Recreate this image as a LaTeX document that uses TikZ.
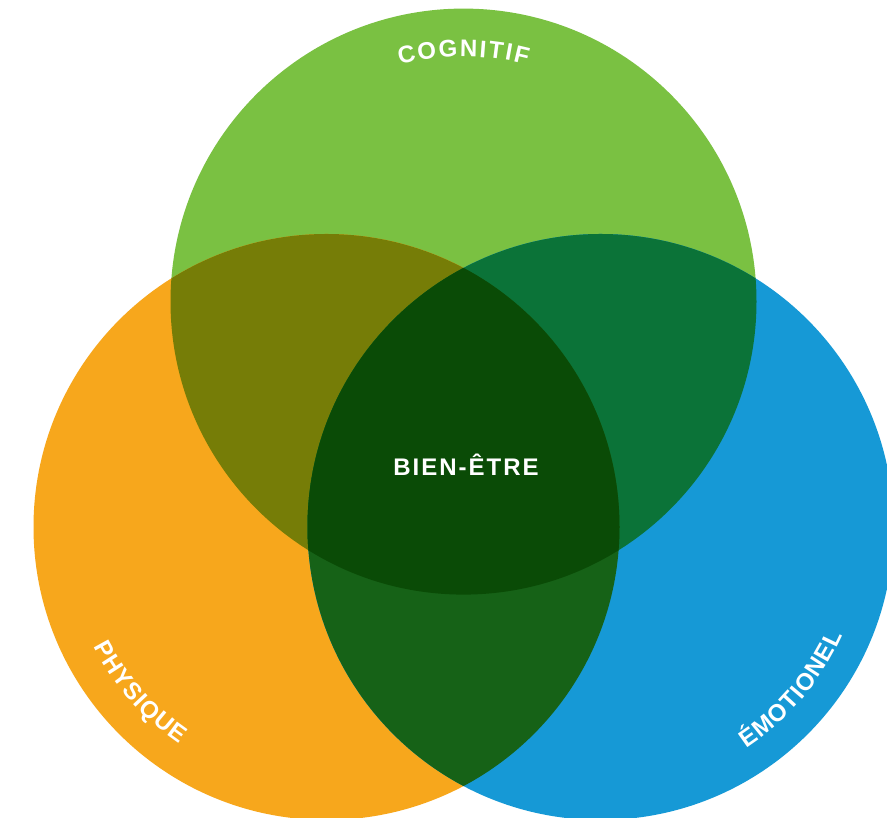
\documentclass[tikz,border=0pt]{standalone}
\usepackage{fontspec}
\setmainfont{Liberation Sans}
\usetikzlibrary{calc}

% circle colours and the multiplied tones of their overlaps
\definecolor{cogGreen}{RGB}{122,193,66}
\definecolor{phyOrange}{RGB}{247,167,28}
\definecolor{emoBlue}{RGB}{22,153,214}
\definecolor{cogPhy}{RGB}{118,125,7}
\definecolor{cogEmo}{RGB}{11,115,56}
\definecolor{phyEmo}{RGB}{22,98,23}
\definecolor{allThree}{RGB}{10,75,6}

\tikzset{
  lettr/.style={inner sep=0pt, anchor=base, text=white,
    font=\fontsize{24}{28}\selectfont\bfseries},
  centre/.style={inner sep=0pt, anchor=base, text=white,
    font=\fontsize{24}{28}\selectfont\bfseries},
}

% set a word letter by letter along an arc
% #1 centre, #2 baseline radius, #3 middle angle,
% #4 sense (-1 clockwise, tops outward; 1 counter-clockwise, tops inward),
% #5 letter/advance list, #6 tracking, #7 name prefix
\newcommand\curvedword[7]{%
  \xdef\cwtot{0}%
  \foreach \lch/\adv in {#5} {\pgfmathparse{\cwtot+\adv+#6}\xdef\cwtot{\pgfmathresult}}%
  \pgfmathparse{\cwtot-#6}\xdef\cwtot{\pgfmathresult}%
  \xdef\cwpos{0}%
  \foreach \lch/\adv [count=\k] in {#5} {%
    \pgfmathsetmacro\cws{\cwpos+\adv/2-\cwtot/2}%
    \pgfmathsetmacro\cwang{#3+#4*deg(\cws/#2)}%
    \node[lettr, rotate={\cwang+#4*90}, name=#7\k] at ($(#1)+(\cwang:#2)$) {\lch};
    \pgfmathparse{\cwpos+\adv+#6}\xdef\cwpos{\pgfmathresult}%
  }%
}

\begin{document}
\begin{tikzpicture}[x=1pt,y=1pt]
  \useasboundingbox (0,0) rectangle (887,818);
  \fill[white] (0,0) rectangle (887,818);
  \clip (0,0) rectangle (887,818);

  \coordinate (G) at (463.5,516.4);
  \coordinate (P) at (326.5,291);
  \coordinate (E) at (600.5,291);
  \def\rad{293}

  % the three circles
  \fill[cogGreen]  (G) circle (\rad);
  \fill[phyOrange] (P) circle (\rad);
  \fill[emoBlue]   (E) circle (\rad);

  % pairwise overlaps
  \begin{scope}
    \clip (G) circle (\rad);
    \fill[cogPhy] (P) circle (\rad);
  \end{scope}
  \begin{scope}
    \clip (G) circle (\rad);
    \fill[cogEmo] (E) circle (\rad);
  \end{scope}
  \begin{scope}
    \clip (P) circle (\rad);
    \fill[phyEmo] (E) circle (\rad);
  \end{scope}
  % common core
  \begin{scope}
    \clip (G) circle (\rad);
    \clip (P) circle (\rad);
    \fill[allThree] (E) circle (\rad);
  \end{scope}

  % labels
  \curvedword{G}{245}{90}{-1}{C/17.33,O/18.67,G/18.67,N/17.33,I/6.67,T/14.66,I/6.67,F/14.66}{2}{cog}
  \curvedword{P}{262}{221.5}{1}{P/16.01,H/17.33,Y/16.01,S/16.01,I/6.67,Q/18.67,U/17.33,E/16.01}{1}{phy}
  \curvedword{E}{265}{319.6}{1}{É/16.01,M/19.99,O/18.67,T/14.66,I/6.67,O/18.67,N/17.33,E/16.01,L/14.66}{1}{emo}

  \node[centre] (core) at (466,342.3)
    {B\kern2pt I\kern2pt E\kern2pt N\kern2pt -\kern2pt Ê\kern2pt T\kern2pt R\kern2pt E};
\end{tikzpicture}
\end{document}
